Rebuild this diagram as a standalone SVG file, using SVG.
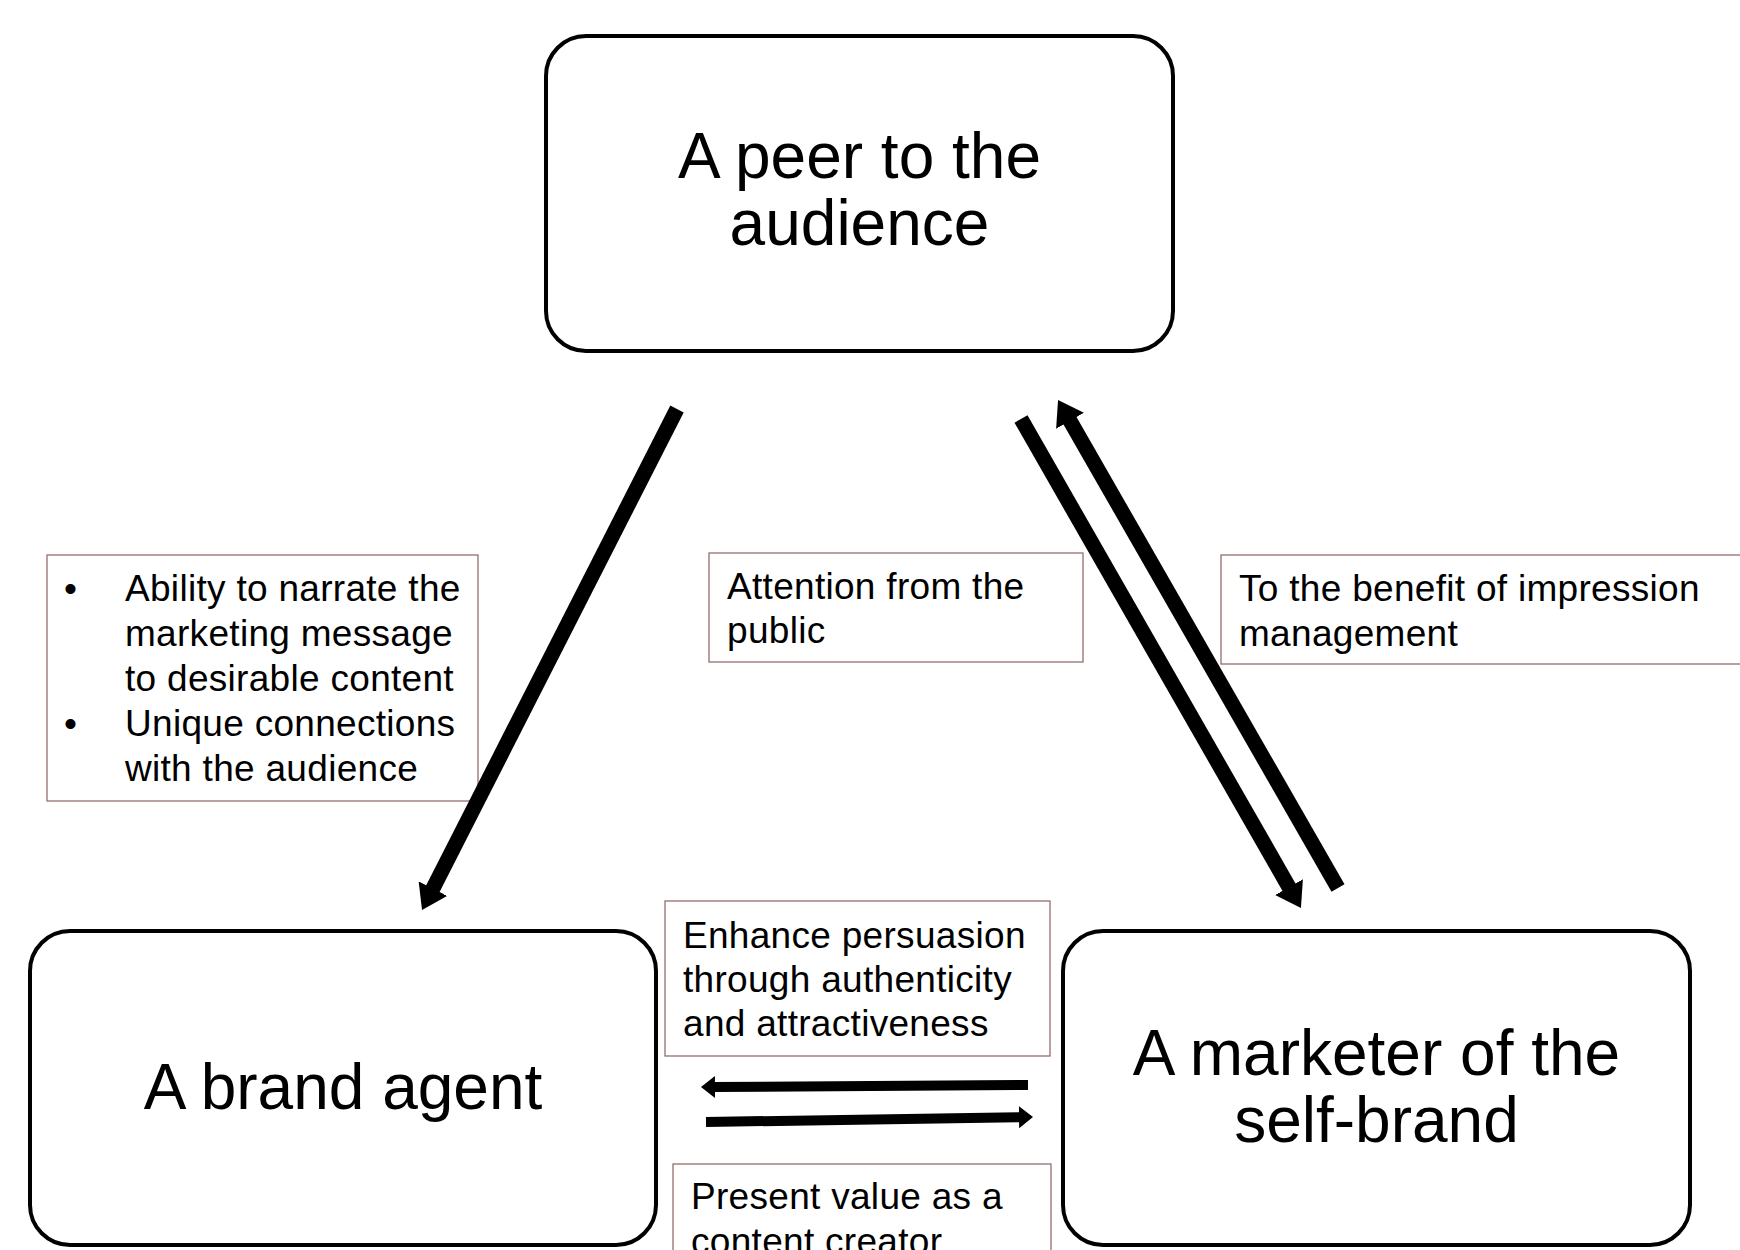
<svg xmlns="http://www.w3.org/2000/svg" width="1740" height="1250" viewBox="0 0 1740 1250">
<style>
.node{fill:#fff;stroke:#000;stroke-width:4}
.big{font-family:"Liberation Sans",Arial,sans-serif;font-size:64px;fill:#000;text-anchor:middle}
.lbl{fill:#fff;stroke:#956f6f;stroke-width:1.3}
.t{font-family:"Liberation Sans",Arial,sans-serif;font-size:37px;fill:#000;letter-spacing:0.3px}
.arr{stroke:#000;stroke-width:15;fill:none}
.arrh{stroke:#000;stroke-width:10;fill:none}
</style>
<defs>
<marker id="hd" viewBox="0 0 24 32" refX="2" refY="16" markerWidth="24" markerHeight="32" markerUnits="userSpaceOnUse" orient="auto">
<path d="M0,0 L24,16 L0,32 Z" fill="#000"/>
</marker>
<marker id="hh" viewBox="0 0 14 22" refX="2" refY="11" markerWidth="14" markerHeight="22" markerUnits="userSpaceOnUse" orient="auto">
<path d="M0,0 L14,11 L0,22 Z" fill="#000"/>
</marker>
</defs>
<rect width="1740" height="1250" fill="#fff"/>

<g id="node-peer">
<rect class="node" x="546" y="36" width="627" height="315" rx="40"/>
<text class="big" x="859.5" y="178">A peer to the</text>
<text class="big" x="859.5" y="245">audience</text>
</g>
<g id="node-brand-agent">
<rect class="node" x="30" y="931" width="626" height="314" rx="40"/>
<text class="big" x="343" y="1109">A brand agent</text>
</g>
<g id="node-marketer">
<rect class="node" x="1063" y="931" width="627" height="314" rx="40"/>
<text class="big" x="1376.5" y="1075">A marketer of the</text>
<text class="big" x="1376.5" y="1142">self-brand</text>
</g>

<g id="label-agent">
<rect class="lbl" x="47" y="555" width="431" height="246"/>
<text class="t" x="64" y="601">•</text>
<text class="t" x="125" y="601">Ability to narrate the</text>
<text class="t" x="125" y="646">marketing message</text>
<text class="t" x="125" y="691">to desirable content</text>
<text class="t" x="64" y="736">•</text>
<text class="t" x="125" y="736">Unique connections</text>
<text class="t" x="125" y="781">with the audience</text>
</g>
<g id="label-attention">
<rect class="lbl" x="709" y="553" width="374" height="109"/>
<text class="t" x="727" y="599">Attention from the</text>
<text class="t" x="727" y="643">public</text>
</g>
<g id="label-impression">
<rect class="lbl" x="1221" y="555" width="560" height="109"/>
<text class="t" x="1239" y="601">To the benefit of impression</text>
<text class="t" x="1239" y="646">management</text>
</g>
<g id="label-persuasion">
<rect class="lbl" x="665" y="901" width="385" height="155"/>
<text class="t" x="683" y="948">Enhance persuasion</text>
<text class="t" x="683" y="992">through authenticity</text>
<text class="t" x="683" y="1036">and attractiveness</text>
</g>
<g id="label-value">
<rect class="lbl" x="673" y="1164" width="378" height="120"/>
<text class="t" x="691" y="1209">Present value as a</text>
<text class="t" x="691" y="1254">content creator</text>
</g>

<g id="connectors">
<line class="arr" x1="677" y1="409" x2="432" y2="890.4" marker-end="url(#hd)"/>
<line class="arr" x1="1021" y1="419" x2="1290" y2="888.9" marker-end="url(#hd)"/>
<line class="arr" x1="1338" y1="888" x2="1069" y2="419.1" marker-end="url(#hd)"/>
<line class="arrh" x1="1028" y1="1085" x2="713" y2="1087" marker-end="url(#hh)"/>
<line class="arrh" x1="706" y1="1122" x2="1021" y2="1117.2" marker-end="url(#hh)"/>
</g>
</svg>
